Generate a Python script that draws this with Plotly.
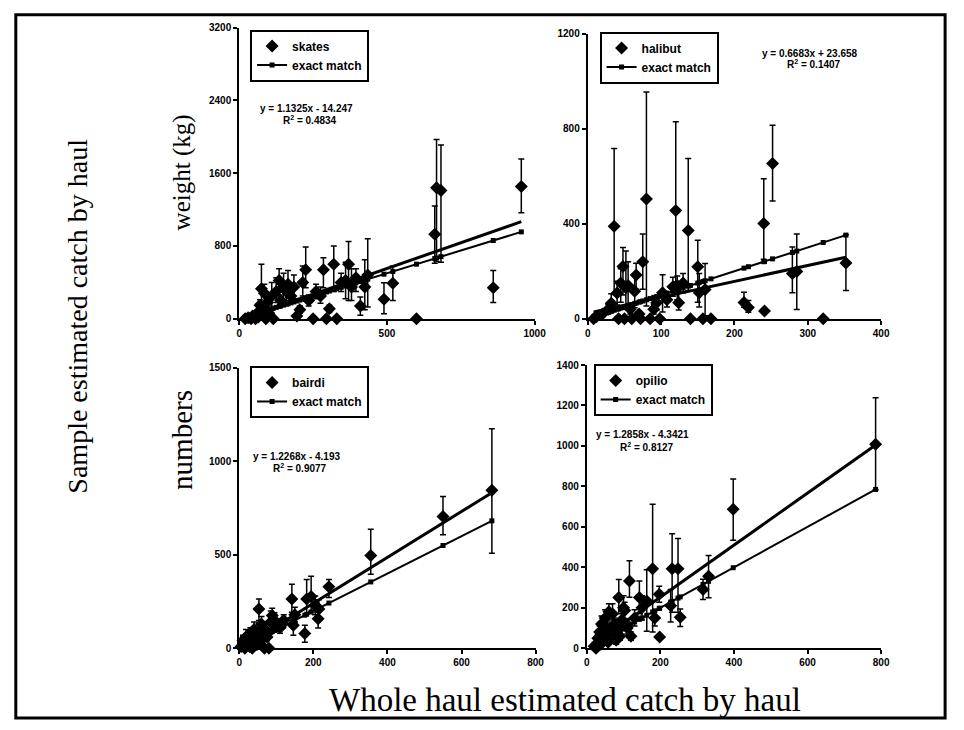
import plotly.graph_objects as go

# ---------------- data ----------------
# each row: x, y, err_plus, err_minus
skates = [
    [20, 0, 0, 0], [30, 10, 0, 0], [40, 0, 0, 0], [45, 30, 20, 20], [55, 0, 0, 0],
    [60, 60, 30, 30], [65, 20, 0, 0], [70, 150, 60, 60], [75, 330, 270, 200],
    [80, 100, 40, 40], [85, 280, 100, 150], [90, 0, 0, 0], [95, 180, 60, 60],
    [100, 60, 30, 30], [110, 250, 150, 150], [115, 0, 0, 0], [125, 300, 150, 120],
    [135, 420, 130, 200], [140, 200, 60, 60], [150, 350, 150, 150], [160, 300, 100, 100],
    [165, 380, 150, 150], [175, 250, 60, 60], [185, 350, 130, 130], [195, 30, 0, 0],
    [205, 100, 40, 40], [215, 400, 180, 150], [225, 540, 250, 200], [235, 200, 60, 60],
    [250, 0, 0, 0], [260, 300, 80, 80], [275, 250, 100, 80], [285, 540, 130, 200],
    [295, 0, 0, 0], [305, 110, 40, 40], [320, 600, 200, 300], [330, 0, 0, 0],
    [345, 400, 100, 100], [360, 420, 200, 200], [370, 600, 250, 400], [380, 350, 200, 150],
    [395, 450, 100, 150], [410, 140, 100, 100], [425, 350, 300, 250], [435, 480, 400, 350],
    [490, 215, 180, 160], [520, 390, 190, 190], [600, 0, 0, 0], [662, 930, 310, 320],
    [668, 1440, 530, 810], [683, 1410, 500, 790], [860, 340, 190, 160], [955, 1455, 300, 290],
]
halibut = [
    [8, 0, 0, 0], [12, 10, 0, 0], [20, 20, 10, 10], [28, 40, 20, 20], [32, 65, 40, 40],
    [36, 389, 327, 287], [40, 108, 50, 50], [42, 0, 0, 0], [45, 150, 60, 80],
    [48, 220, 80, 120], [50, 0, 0, 0], [52, 130, 155, 90], [55, 140, 100, 100],
    [58, 40, 20, 20], [60, 0, 0, 0], [64, 116, 70, 70], [66, 184, 50, 60], [70, 20, 0, 0],
    [72, 0, 0, 0], [75, 240, 117, 116], [80, 504, 450, 450], [85, 0, 0, 0], [90, 40, 20, 20],
    [94, 67, 30, 30], [98, 0, 0, 0], [102, 109, 76, 80], [108, 80, 30, 30], [116, 135, 40, 40],
    [120, 456, 373, 300], [122, 140, 40, 60], [124, 67, 50, 30], [130, 150, 40, 40],
    [137, 371, 303, 252], [140, 0, 0, 0], [150, 219, 111, 150], [152, 110, 80, 60],
    [157, 0, 0, 0], [160, 123, 110, 110], [168, 0, 0, 0], [213, 68, 44, 20], [219, 47, 30, 20],
    [240, 401, 188, 151], [241, 33, 0, 0], [252, 653, 161, 158], [279, 190, 112, 80],
    [285, 199, 158, 160], [321, 0, 0, 0], [352, 235, 119, 116],
]
bairdi = [
    [5, 10, 10, 10], [10, 40, 30, 30], [15, 0, 0, 0], [18, 60, 40, 40], [22, 20, 10, 10],
    [25, 50, 20, 20], [28, 10, 0, 0], [30, 80, 30, 30], [35, 0, 0, 0], [38, 40, 20, 20],
    [40, 100, 40, 40], [45, 60, 20, 20], [48, 20, 10, 10], [53, 210, 53, 61], [55, 90, 30, 30],
    [60, 130, 40, 40], [62, 50, 20, 20], [68, 0, 0, 0], [70, 100, 30, 30], [75, 60, 20, 20],
    [80, 0, 0, 0], [85, 140, 60, 50], [89, 175, 39, 40], [95, 150, 40, 40], [100, 120, 30, 30],
    [110, 110, 30, 30], [120, 150, 30, 30], [142, 263, 79, 70], [146, 123, 60, 53],
    [150, 180, 40, 40], [177, 79, 44, 47], [182, 263, 105, 80], [194, 277, 109, 80],
    [205, 230, 50, 50], [213, 158, 60, 50], [215, 210, 50, 50], [242, 329, 39, 57],
    [355, 496, 141, 100], [550, 705, 107, 97], [682, 845, 330, 337],
]
opilio = [
    [20, 10, 10, 10], [25, 0, 0, 0], [30, 50, 20, 20], [35, 80, 30, 30], [38, 20, 10, 10],
    [40, 120, 40, 40], [45, 60, 20, 20], [50, 150, 40, 40], [55, 100, 30, 30], [58, 30, 10, 10],
    [60, 180, 40, 40], [65, 80, 30, 30], [70, 170, 50, 50], [75, 120, 30, 30], [80, 40, 20, 20],
    [87, 251, 89, 80], [90, 60, 20, 20], [95, 140, 50, 50], [100, 200, 60, 60],
    [103, 187, 40, 40], [110, 100, 30, 30], [116, 332, 100, 80], [120, 60, 20, 20],
    [130, 150, 40, 40], [143, 251, 81, 81], [150, 200, 60, 60], [163, 234, 154, 150],
    [179, 393, 319, 312], [185, 150, 40, 40], [197, 267, 40, 40], [198, 56, 0, 0],
    [228, 210, 80, 80], [232, 393, 173, 215], [248, 393, 149, 215], [254, 153, 41, 45],
    [316, 291, 50, 50], [331, 356, 102, 106], [398, 687, 149, 153], [785, 1008, 230, 224],
]

species = ["skates", "halibut", "bairdi", "opilio"]
datasets = [skates, halibut, bairdi, opilio]
slopes = [1.1325, 0.6683, 1.2268, 1.2858]
intercepts = [-14.247, 23.658, -4.193, -4.3421]
eq_text = ["y = 1.1325x - 14.247", "y = 0.6683x + 23.658",
           "y = 1.2268x - 4.193", "y = 1.2858x - 4.3421"]
r2_text = ["0.4834", "0.1407", "0.9077", "0.8127"]
x_ranges = [[0, 1000], [0, 400], [0, 800], [0, 800]]
y_ranges = [[0, 3200], [0, 1200], [0, 1500], [0, 1400]]
x_ticks = [[0, 500, 1000], [0, 100, 200, 300, 400],
           [0, 200, 400, 600, 800], [0, 200, 400, 600, 800]]
y_ticks = [[0, 800, 1600, 2400, 3200], [0, 400, 800, 1200],
           [0, 500, 1000, 1500], [0, 200, 400, 600, 800, 1000, 1200, 1400]]

# ---------------- layout helpers ----------------
W, H = 964, 730
def px_x(p):
    return p / W
def px_y(p):
    return 1 - p / H

# plot areas in pixels: (left, right, bottom, top)
areas = [(240, 540, 318, 22), (594, 892, 318, 28),
         (240, 541, 653, 368), (593, 892, 653, 365)]
legend_pos = [(251, 24), (606, 26), (251, 366), (600, 364)]
eq_pos = [(308, 104, 115), (820, 48, 58), (298, 458, 469), (650, 436, 447)]

fig = go.Figure()
tickfont = dict(family="Liberation Sans", size=10, color="black", weight="bold")

for i in range(4):
    n = "" if i == 0 else str(i + 1)
    xa, ya = "x" + n, "y" + n
    lg = "legend" + n
    data = sorted(datasets[i], key=lambda r: r[0])
    xs = [r[0] for r in data]
    ys = [r[1] for r in data]
    ep = [r[2] for r in data]
    em = [r[3] for r in data]
    xmin, xmax = min(xs), max(xs)
    # regression line
    fig.add_trace(go.Scatter(
        x=[xmin, xmax], y=[slopes[i] * xmin + intercepts[i], slopes[i] * xmax + intercepts[i]],
        mode="lines", line=dict(color="black", width=3), showlegend=False,
        xaxis=xa, yaxis=ya, cliponaxis=False, hoverinfo="skip"))
    # exact match line
    fig.add_trace(go.Scatter(
        x=xs, y=xs, mode="lines+markers", name="exact match",
        line=dict(color="black", width=2), marker=dict(symbol="square", size=5, color="black"),
        xaxis=xa, yaxis=ya, legend=lg, cliponaxis=False, legendrank=2))
    # data points
    fig.add_trace(go.Scatter(
        x=xs, y=ys, mode="markers", name=species[i],
        marker=dict(symbol="diamond", size=10, color="black"),
        error_y=dict(type="data", symmetric=False, array=ep, arrayminus=em,
                     color="black", thickness=1.5, width=3),
        xaxis=xa, yaxis=ya, legend=lg, cliponaxis=False, legendrank=1))

    l, r, b, t = areas[i]
    common = dict(showgrid=False, zeroline=False, showline=True, linecolor="black",
                  linewidth=2, ticks="outside", ticklen=4, tickwidth=1.5,
                  tickcolor="black", tickfont=tickfont)
    fig.update_layout(**{
        "xaxis" + n: dict(domain=[px_x(l), px_x(r)], range=x_ranges[i],
                          tickvals=x_ticks[i], anchor=ya, **common),
        "yaxis" + n: dict(domain=[px_y(b), px_y(t)], range=y_ranges[i],
                          tickvals=y_ticks[i], anchor=xa, **common),
        lg: dict(x=px_x(legend_pos[i][0]), y=px_y(legend_pos[i][1]),
                 xanchor="left", yanchor="top", bgcolor="white",
                 bordercolor="black", borderwidth=2,
                 font=dict(family="Liberation Sans", size=12, color="black", weight="bold"),
                 tracegroupgap=0, itemwidth=30),
    })
    ex, ey1, ey2 = eq_pos[i]
    eqfont = dict(family="Liberation Sans", size=10, color="black", weight="bold")
    fig.add_annotation(x=px_x(ex), y=px_y(ey1), xref="paper", yref="paper",
                       xanchor="center", yanchor="middle",
                       text=eq_text[i], showarrow=False, font=eqfont)
    fig.add_annotation(x=px_x(ex + 4), y=px_y(ey2 + 1), xref="paper", yref="paper",
                       xanchor="center", yanchor="middle",
                       text="R<sup>2</sup> = " + r2_text[i], showarrow=False, font=eqfont)

serif = dict(family="Liberation Serif", color="black")
titles = [
    ("Sample estimated catch by haul", 76, 315, -90, 28),
    ("weight (kg)", 182, 169, -90, 25),
    ("numbers", 182, 441, -90, 29),
    ("Whole haul estimated catch by haul", 571, 706, 0, 33),
]
for txt, tx, ty, ang, sz in titles:
    fig.add_annotation(x=px_x(tx), y=px_y(ty), xref="paper", yref="paper",
                       xanchor="center", yanchor="middle", textangle=ang,
                       text=txt, showarrow=False, font=dict(size=sz, **serif))

fig.add_shape(type="rect", xref="paper", yref="paper",
              x0=px_x(13), x1=px_x(957), y0=px_y(724), y1=px_y(9),
              line=dict(color="black", width=3))

fig.update_layout(width=W, height=H, margin=dict(l=0, r=0, t=0, b=0),
                  paper_bgcolor="white", plot_bgcolor="white")

fig.write_html("out.html")
